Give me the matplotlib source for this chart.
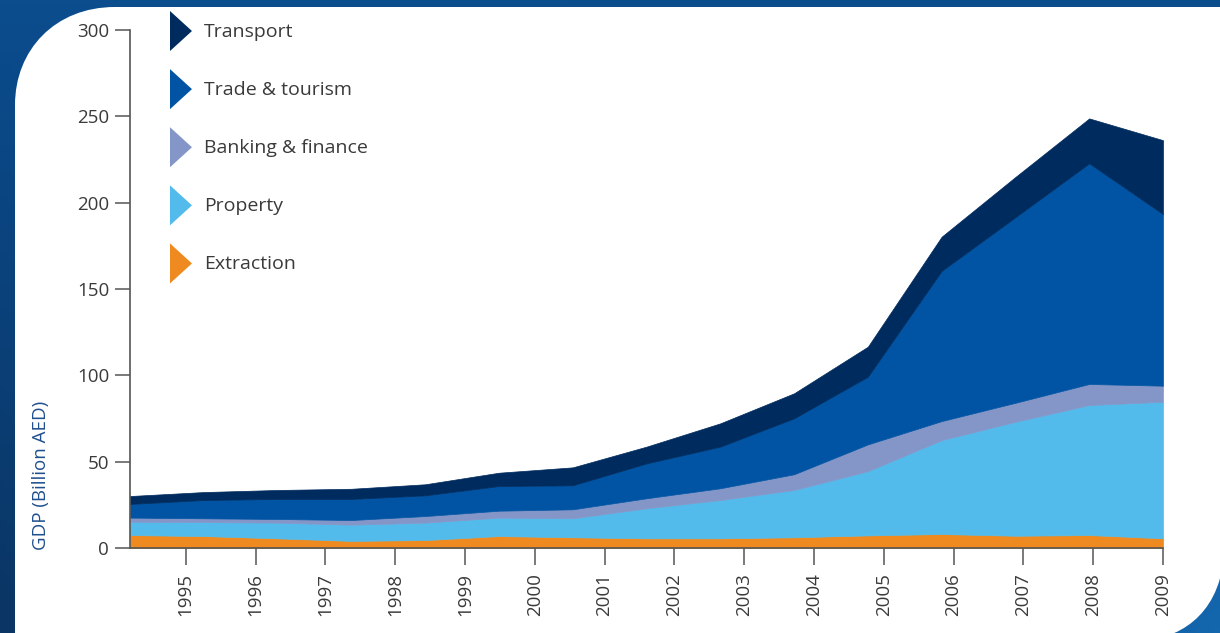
import numpy as np
import matplotlib
matplotlib.use("Agg")
import matplotlib.pyplot as plt
from matplotlib.path import Path
from matplotlib.patches import PathPatch, Polygon, Patch
from matplotlib.legend_handler import HandlerPatch
from matplotlib.colors import LinearSegmentedColormap

plt.rcParams['font.family'] = ['Open Sans', 'DejaVu Sans']

# GDP by sector, billion AED
years = list(range(1995, 2010))
extraction = [7.5, 6.9, 5.6, 4.1, 4.6, 6.9, 6.2, 5.6, 5.6, 6.2, 7.3, 8.1, 7.1, 7.5, 5.6]
prop = [7.7, 8.1, 9.1, 9.4, 10.1, 10.7, 11.0, 17.4, 22.2, 27.4, 37.2, 54.4, 66.0, 75.3, 79.1]
banking = [2.4, 2.2, 2.1, 2.7, 3.8, 4.0, 5.2, 5.8, 6.8, 9.1, 15.5, 11.0, 11.0, 12.2, 9.3]
trade = [7.9, 10.6, 11.6, 12.2, 12.0, 14.3, 13.9, 20.2, 24.1, 32.4, 39.2, 87.0, 107.5, 127.8, 99.4]
transport = [4.6, 4.6, 5.2, 5.9, 6.4, 7.7, 10.4, 9.7, 13.5, 14.5, 17.4, 19.8, 23.3, 26.0, 42.8]

labels = ["Transport", "Trade & tourism", "Banking & finance", "Property", "Extraction"]
colors = ["#002b5e", "#0054a3", "#8496c8", "#52bbeb", "#ee8a1f"]

tick_years = list(range(1995, 2010))

fig = plt.figure(figsize=(12.2, 6.33), dpi=100)

# background frame: blue gradient with white rounded panel
bg = fig.add_axes([0, 0, 1, 1], zorder=-5)
bg.set_xlim(0, 1220)
bg.set_ylim(633, 0)
bg.axis("off")
gx, gy = np.meshgrid(np.linspace(0, 1, 200), np.linspace(0, 1, 100))
grad = 0.5 * gx + 0.5 * (1 - gy) * (1 - gx) + 0.4 * gx * gy
cmap = LinearSegmentedColormap.from_list("bgblue", ["#0a3564", "#0b4a8a", "#1466ad"])
bg.imshow(grad, cmap=cmap, extent=[0, 1220, 633, 0], aspect="auto")
verts = [(15, 640), (15, 105),
         (15, 50), (55, 7), (115, 7),
         (1225, 7), (1225, 540),
         (1225, 600), (1195, 633), (1150, 640),
         (15, 640)]
codes = [Path.MOVETO, Path.LINETO,
         Path.CURVE4, Path.CURVE4, Path.CURVE4,
         Path.LINETO, Path.LINETO,
         Path.CURVE4, Path.CURVE4, Path.CURVE4,
         Path.CLOSEPOLY]
bg.add_patch(PathPatch(Path(verts, codes), facecolor="white", edgecolor="none"))

ax = fig.add_axes([130 / 1220, 85 / 633, 1033 / 1220, 518 / 633])
ax.set_facecolor("none")
polys = ax.stackplot(years, extraction, prop, banking, trade, transport,
                     colors=colors[::-1])
for p, c in zip(polys, colors[::-1]):
    p.set_edgecolor(c)
    p.set_linewidth(0.5)
ax.set_xlim(1995, 2009)
ax.set_ylim(0, 300)

for s in ["top", "right"]:
    ax.spines[s].set_visible(False)
for s in ["left", "bottom"]:
    ax.spines[s].set_color("#555555")
    ax.spines[s].set_linewidth(1.2)
    ax.spines[s].set_zorder(5)

# the year ticks in the original are not aligned with the data points
tick_pos = [2009 - (2009 - y) * 0.946 for y in tick_years]
ax.set_xticks(tick_pos)
ax.set_xticklabels([str(y) for y in tick_years], rotation=90, fontsize=13.5, color="#3a3a3a")
ax.set_yticks([0, 50, 100, 150, 200, 250, 300])
ax.tick_params(axis="y", direction="out", length=11, width=1.1, color="#555555",
               labelsize=13.5, labelcolor="#3a3a3a", pad=4)
ax.tick_params(axis="x", direction="out", length=12, width=1.1, color="#555555", pad=6)

ax.set_ylabel("GDP (Billion AED)", fontsize=13.5, color="#1f4f8e")
ax.yaxis.set_label_coords(-0.077, 0.14)


def make_triangle(legend, orig_handle, xdescent, ydescent, width, height, fontsize):
    x0, y0 = -xdescent, -ydescent
    return Polygon([[x0, y0], [x0 + width, y0 + height / 2], [x0, y0 + height]], closed=True)


handles = [Patch(facecolor=c, edgecolor="none") for c in colors]
ax.legend(handles, labels, loc="upper left",
          bbox_to_anchor=(170 / 1220, 1 - 11 / 633), bbox_transform=fig.transFigure,
          frameon=False, fontsize=14, labelcolor="#3a3a3a",
          handler_map={Patch: HandlerPatch(patch_func=make_triangle)},
          handlelength=1.13, handleheight=2.79, labelspacing=0.93,
          handletextpad=0.62, borderpad=0, borderaxespad=0)

fig.savefig("out.png", dpi=100)
